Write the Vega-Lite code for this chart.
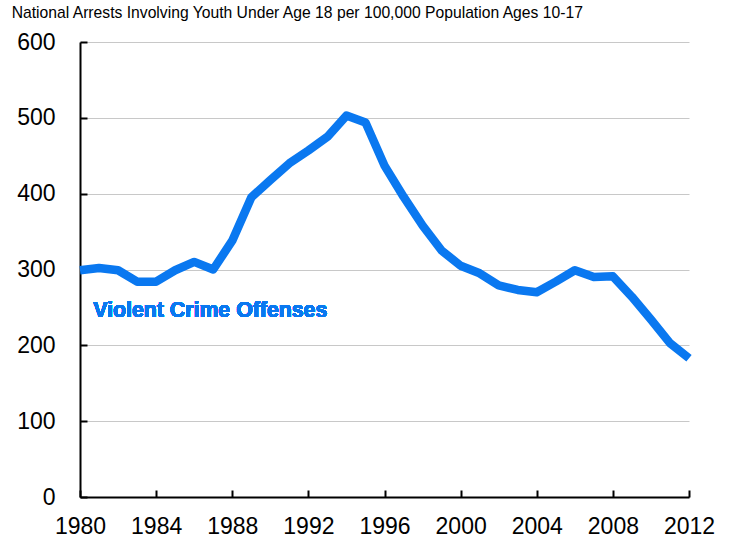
{
  "$schema": "https://vega.github.io/schema/vega-lite/v6.json",
  "autosize": "none",
  "width": 609,
  "height": 455,
  "padding": {"left": 80, "top": 42, "right": 42, "bottom": 41},
  "background": "white",
  "title": {
    "text": "National Arrests Involving Youth Under Age 18 per 100,000 Population Ages 10-17",
    "anchor": "start",
    "frame": "bounds",
    "font": "Liberation Sans",
    "fontSize": 15.7,
    "fontWeight": "normal",
    "color": "#000000",
    "offset": 9,
    "dx": -5
  },
  "config": {
    "view": {"stroke": null},
    "font": "Liberation Sans"
  },
  "data": {
    "values": [
      {"year": 1980, "rate": 299},
      {"year": 1981, "rate": 302},
      {"year": 1982, "rate": 299},
      {"year": 1983, "rate": 284},
      {"year": 1984, "rate": 284},
      {"year": 1985, "rate": 299},
      {"year": 1986, "rate": 310},
      {"year": 1987, "rate": 300},
      {"year": 1988, "rate": 338},
      {"year": 1989, "rate": 395},
      {"year": 1990, "rate": 418},
      {"year": 1991, "rate": 440},
      {"year": 1992, "rate": 457},
      {"year": 1993, "rate": 475},
      {"year": 1994, "rate": 503},
      {"year": 1995, "rate": 494},
      {"year": 1996, "rate": 437},
      {"year": 1997, "rate": 396},
      {"year": 1998, "rate": 358},
      {"year": 1999, "rate": 325},
      {"year": 2000, "rate": 305},
      {"year": 2001, "rate": 295},
      {"year": 2002, "rate": 279},
      {"year": 2003, "rate": 273},
      {"year": 2004, "rate": 270},
      {"year": 2005, "rate": 284},
      {"year": 2006, "rate": 299},
      {"year": 2007, "rate": 290},
      {"year": 2008, "rate": 291},
      {"year": 2009, "rate": 264},
      {"year": 2010, "rate": 234},
      {"year": 2011, "rate": 203},
      {"year": 2012, "rate": 183}
    ]
  },
  "layer": [
    {
      "mark": {"type": "line", "color": "#0a78f0", "strokeWidth": 8.5, "strokeJoin": "round", "strokeCap": "butt", "clip": false},
      "encoding": {
        "x": {
          "field": "year",
          "type": "quantitative",
          "scale": {"domain": [1980, 2012], "nice": false, "zero": false},
          "axis": {
            "title": null,
            "values": [1980, 1984, 1988, 1992, 1996, 2000, 2004, 2008, 2012],
            "format": "d",
            "grid": false,
            "domainColor": "#000000",
            "domainWidth": 2,
            "tickColor": "#000000",
            "tickWidth": 2,
            "tickSize": -7,
            "labelPadding": 25,
            "labelFontSize": 23,
            "labelColor": "#000000",
            "labelFont": "Liberation Sans",
            "labelFlush": false
          }
        },
        "y": {
          "field": "rate",
          "type": "quantitative",
          "scale": {"domain": [0, 600], "nice": false},
          "axis": {
            "title": null,
            "values": [0, 100, 200, 300, 400, 500, 600],
            "grid": true,
            "gridColor": "#c8c8c8",
            "gridWidth": 1,
            "domainColor": "#000000",
            "domainWidth": 2,
            "tickColor": "#000000",
            "tickWidth": 2,
            "tickSize": -7,
            "labelPadding": 32,
            "labelFontSize": 23,
            "labelColor": "#000000",
            "labelFont": "Liberation Sans"
          }
        }
      }
    },
    {
      "mark": {"type": "text", "text": "Violent Crime Offenses", "align": "left", "baseline": "middle", "font": "Liberation Sans", "fontSize": 21.3, "fontWeight": 700, "color": "#0a78f0"},
      "encoding": {
        "x": {"datum": 1980.7, "type": "quantitative"},
        "y": {"datum": 245, "type": "quantitative"}
      }
    }
  ]
}
